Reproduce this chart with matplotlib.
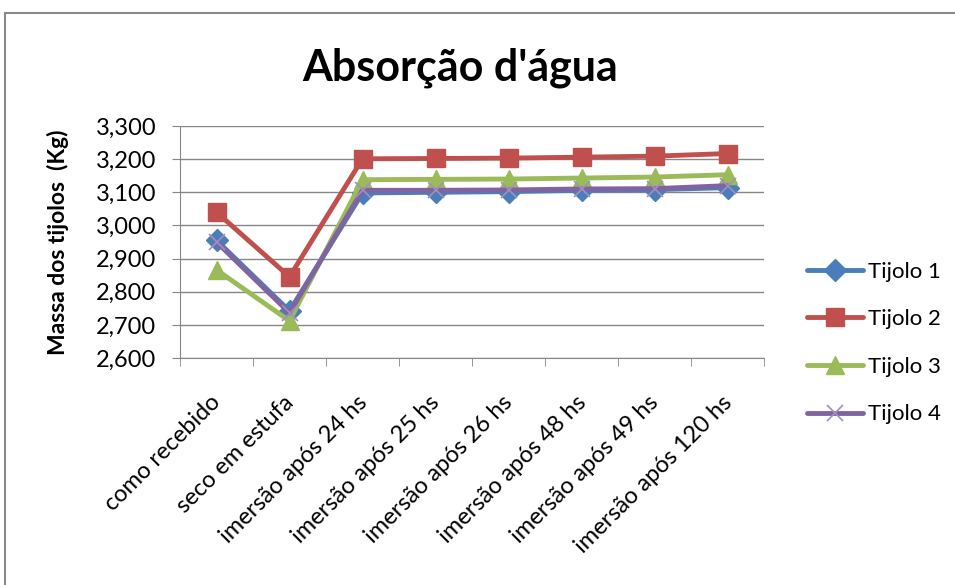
import numpy as np
import matplotlib.pyplot as plt
from matplotlib.patches import Rectangle

plt.rcParams['font.family'] = ['Lato', 'DejaVu Sans']

etapas = ['como recebido', 'seco em estufa', 'imersão após 24 hs', 'imersão após 25 hs',
          'imersão após 26 hs', 'imersão após 48 hs', 'imersão após 49 hs', 'imersão após 120 hs']

# massa de cada tijolo em kg
tijolo1 = [2.955, 2.742, 3.098, 3.100, 3.102, 3.106, 3.108, 3.114]
tijolo2 = [3.040, 2.845, 3.201, 3.202, 3.203, 3.206, 3.209, 3.217]
tijolo3 = [2.866, 2.712, 3.138, 3.139, 3.140, 3.143, 3.146, 3.153]
tijolo4 = [2.950, 2.736, 3.106, 3.106, 3.107, 3.110, 3.111, 3.120]

series = [
    ('Tijolo 1', tijolo1, '#4A7EBB', 'D', 11),
    ('Tijolo 2', tijolo2, '#C0504D', 's', 13),
    ('Tijolo 3', tijolo3, '#9BBB59', '^', 13),
    ('Tijolo 4', tijolo4, '#8064A2', 'x', 12),
]

fig = plt.figure(figsize=(9.55, 5.85), dpi=100)
ax = fig.add_axes([180/955, 1 - 358/585, (764-180)/955, (358-126)/585])

# moldura cinza do gráfico
fig.patches.append(Rectangle((5/955, -0.05), 1.1, 1 - 13/585 + 0.05, transform=fig.transFigure,
                             fill=False, edgecolor='#8a8a8a', linewidth=1.5))

x = np.arange(len(etapas))
for nome, vals, cor, mk, ms in series:
    if mk == 'x':
        ax.plot(x, vals, color=cor, lw=3.5, marker=mk, ms=ms, mew=1.2,
                mec='#A08FC0', label=nome, solid_capstyle='round')
    else:
        ax.plot(x, vals, color=cor, lw=3.5, marker=mk, ms=ms, mec=cor,
                label=nome, solid_capstyle='round')

ax.set_xlim(-0.5, len(etapas) - 0.5)
ax.set_ylim(2.6, 3.3)
yt = np.arange(2.6, 3.3001, 0.1)
ax.set_yticks(yt)
ax.set_yticklabels([f'{v:.3f}'.replace('.', ',') for v in yt], fontsize=17)
ax.grid(axis='y', color='#868686', lw=1)
ax.set_axisbelow(True)

ax.set_xticks(x)
ax.set_xticks(np.arange(-0.5, len(etapas)), minor=True)
ax.tick_params(axis='x', which='major', length=0, pad=0)
ax.tick_params(axis='x', which='minor', length=6, color='#868686', direction='out')
ax.tick_params(axis='y', length=6, color='#868686', direction='out', pad=11)
ax.set_xticklabels([])
for xi, lab in zip(x, etapas):
    ax.annotate(lab, xy=(xi, 0), xycoords=('data', 'axes fraction'),
                xytext=(1, -41), textcoords='offset pixels', rotation=45,
                ha='right', va='center', rotation_mode='anchor', fontsize=17)

for s in ['top', 'right']:
    ax.spines[s].set_visible(False)
for s in ['left', 'bottom']:
    ax.spines[s].set_color('#868686')

ax.set_ylabel('Massa dos tijolos  (Kg)', fontsize=16.5, fontweight='bold', labelpad=19)

fig.text(460/955, 1 - 68/585, "Absorção d'água", ha='center', va='center',
         fontsize=31, fontweight='bold')

ax.legend(loc='center left', bbox_to_anchor=(787/955, 1 - 343/585),
          bbox_transform=fig.transFigure, frameon=False, fontsize=16,
          handlelength=2.5, labelspacing=1.24, handletextpad=0.25)

fig.savefig('out.png', dpi=100)
